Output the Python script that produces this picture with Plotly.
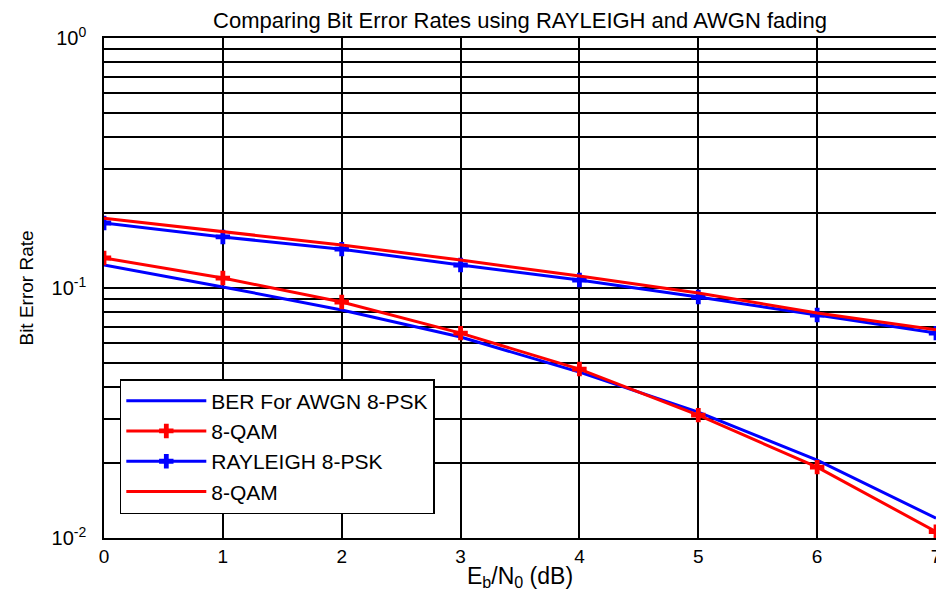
import plotly.graph_objects as go

# Eb/N0 in dB
ebn0_db = [0, 1, 2, 3, 4, 5, 6, 7]

# values
ber_awgn_8psk = [0.1236, 0.101, 0.0817, 0.0637, 0.0461, 0.0319, 0.0205, 0.0120]
ber_awgn_8qam = [0.1318, 0.1096, 0.0879, 0.0660, 0.0474, 0.0310, 0.0192, 0.0106]
ber_rayleigh_8psk = [0.182, 0.160, 0.143, 0.1236, 0.1076, 0.0920, 0.0780, 0.0660]
ber_rayleigh_8qam = [0.190, 0.1675, 0.1486, 0.1294, 0.1117, 0.0955, 0.0794, 0.0680]

series_names = ['BER For AWGN 8-PSK', '8-QAM', 'RAYLEIGH 8-PSK', '8-QAM']

decades = [0.01, 0.1, 1.0]
decade_labels = ['10<sup>-2</sup>', '10<sup>-1</sup>', '10<sup>0</sup>']

FONT = 'Liberation Sans, Arial, sans-serif'
BLUE = '#0000ff'
RED = '#ff0000'

fig = go.Figure()
fig.add_trace(go.Scatter(x=ebn0_db, y=ber_awgn_8psk, name=series_names[0], mode='lines',
                         line=dict(color=BLUE, width=3)))
fig.add_trace(go.Scatter(x=ebn0_db, y=ber_awgn_8qam, name=series_names[1], mode='lines+markers',
                         line=dict(color=RED, width=3),
                         marker=dict(symbol='cross', size=12, color=RED)))
fig.add_trace(go.Scatter(x=ebn0_db, y=ber_rayleigh_8psk, name=series_names[2], mode='lines+markers',
                         line=dict(color=BLUE, width=3),
                         marker=dict(symbol='cross', size=12, color=BLUE)))
fig.add_trace(go.Scatter(x=ebn0_db, y=ber_rayleigh_8qam, name=series_names[3], mode='lines',
                         line=dict(color=RED, width=3)))

# log grid lines at 2..9 x each decade
minor_ticks = [d * m for d in decades[:-1] for m in range(2, 10)]

# the page puts the figure 8px in from the top-left corner, margins allow for that
fig.update_layout(
    width=944, height=598,
    margin=dict(l=96, r=16, t=30, b=68),
    paper_bgcolor='white',
    plot_bgcolor='white',
    font=dict(family=FONT, color='black', size=17),
    title=dict(text='Comparing Bit Error Rates using RAYLEIGH and AWGN fading',
               x=0.5, xref='paper', xanchor='center',
               y=1 - 12 / 598, yref='container', yanchor='middle',
               font=dict(family=FONT, size=22, color='black')),
    xaxis=dict(
        range=[0, 7], dtick=1, tick0=0, automargin=False,
        showgrid=True, gridcolor='black', gridwidth=1.5,
        showline=True, linecolor='black', linewidth=1.5, mirror=True,
        zeroline=False, ticks='', ticklabelstandoff=0,
        tickfont=dict(size=19),
        title=dict(text='E<sub>b</sub>/N<sub>0</sub> (dB)', standoff=2,
                   font=dict(size=23)),
    ),
    yaxis=dict(
        type='log', range=[-2, 0], automargin=False,
        tickvals=decades, ticktext=decade_labels,
        showgrid=True, gridcolor='black', gridwidth=1.5,
        minor=dict(tickvals=minor_ticks, showgrid=True, gridcolor='black',
                   gridwidth=1.5, ticks=''),
        showline=True, linecolor='black', linewidth=1.5, mirror=True,
        zeroline=False, ticks='', ticklabelstandoff=12,
        tickfont=dict(size=20),
        title=dict(text='Bit Error Rate', standoff=13, font=dict(size=19)),
    ),
    legend=dict(
        x=0.019, y=0.048, xanchor='left', yanchor='bottom',
        bgcolor='white', bordercolor='black', borderwidth=1.5,
        font=dict(family=FONT, size=21, color='black'),
        tracegroupgap=0, itemwidth=80,
    ),
)

fig.write_html("out.html")
